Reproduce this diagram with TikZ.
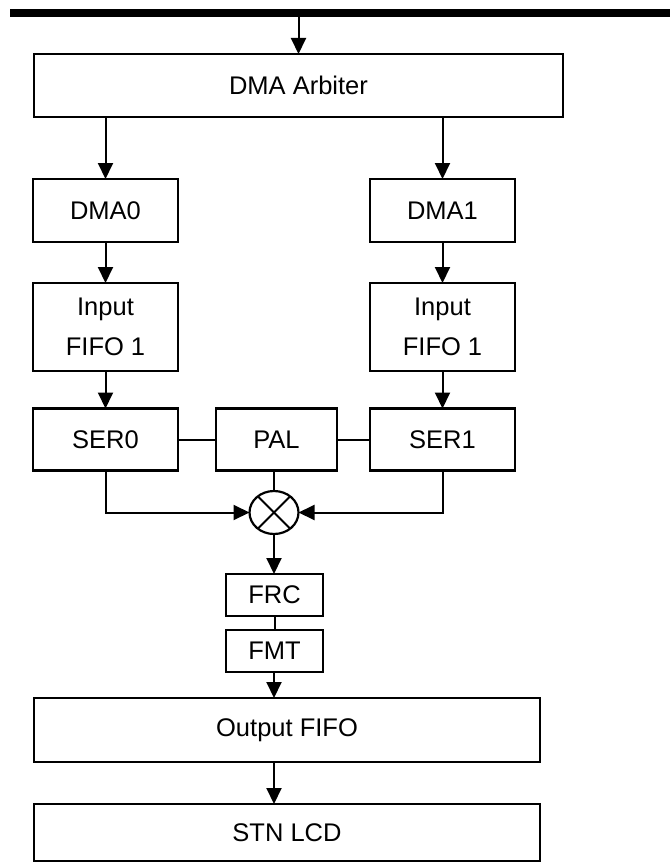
\documentclass[tikz,border=0pt]{standalone}
\usepackage{fontspec}
\setmainfont{Liberation Sans}
\usetikzlibrary{arrows.meta,shapes.geometric}
\begin{document}
\begin{tikzpicture}[x=1pt,y=-1pt,
  box/.style={draw, line width=2.2pt, inner sep=0pt, outer sep=0pt, align=center,
    font=\fontsize{25.5}{40}\selectfont},
  conn/.style={line width=2pt},
  arr/.style={conn, -{Triangle[length=16pt,width=15pt]}}]
\useasboundingbox (0,0) rectangle (670,864);
% bus bar
\coordinate (barL) at (10,12.8);
\coordinate (barR) at (670,12.8);
\coordinate (bartap) at (298.5,16.5);
\draw[line width=8pt] (barL) -- (barR);
% boxes
\node[box, minimum width=529pt, minimum height=63pt] (arb) at (298.5,85.5) {DMA Arbiter};
\node[box, minimum width=145pt, minimum height=63pt] (dma0) at (105.5,210.5) {DMA0};
\node[box, minimum width=145pt, minimum height=63pt] (dma1) at (442.5,210.5) {DMA1};
\node[box, minimum width=145pt, minimum height=88pt] (fifo0) at (105.5,327) {Input\\FIFO 1};
\node[box, minimum width=145pt, minimum height=88pt] (fifo1) at (442.5,327) {Input\\FIFO 1};
\node[box, minimum width=145pt, minimum height=62pt] (ser0) at (105.5,439.5) {SER0};
\node[box, minimum width=145pt, minimum height=62pt] (ser1) at (442.5,439.5) {SER1};
\node[box, minimum width=121pt, minimum height=62pt] (pal) at (276.5,439.5) {PAL};
\node[draw, line width=2.2pt, ellipse, inner sep=0pt, outer sep=0pt,
  minimum width=49pt, minimum height=43pt] (circ) at (274,512.5) {};
\draw[conn] (circ.45) -- (circ.225);
\draw[conn] (circ.135) -- (circ.315);
\node[box, minimum width=97pt, minimum height=42pt] (frc) at (274.5,595) {FRC};
\node[box, minimum width=97pt, minimum height=42pt] (fmt) at (274.5,651) {FMT};
\node[box, minimum width=506pt, minimum height=64pt] (ofifo) at (287,730) {Output FIFO};
\node[box, minimum width=506pt, minimum height=57pt] (lcd) at (287,832.5) {STN LCD};
% connectors
\draw[arr] (bartap) -- (bartap |- arb.north);
\draw[arr] (arb.south -| dma0) -- (dma0.north);
\draw[arr] (arb.south -| dma1) -- (dma1.north);
\draw[arr] (dma0.south) -- (fifo0.north);
\draw[arr] (dma1.south) -- (fifo1.north);
\draw[arr] (fifo0.south) -- (ser0.north);
\draw[arr] (fifo1.south) -- (ser1.north);
\draw[conn] (ser0.east) -- (pal.west);
\draw[conn] (pal.east) -- (ser1.west);
\draw[conn] (pal.south -| circ) -- (circ.north);
\draw[arr] (ser0.south) |- (circ.west);
\draw[arr] (ser1.south) |- (circ.east);
\draw[arr] (circ.south) -- (circ.south |- frc.north);
\draw[conn] (frc.south) -- (fmt.north);
\draw[arr] (fmt.south -| circ) -- (ofifo.north -| circ);
\draw[arr] (ofifo.south -| circ) -- (lcd.north -| circ);
\end{tikzpicture}
\end{document}
